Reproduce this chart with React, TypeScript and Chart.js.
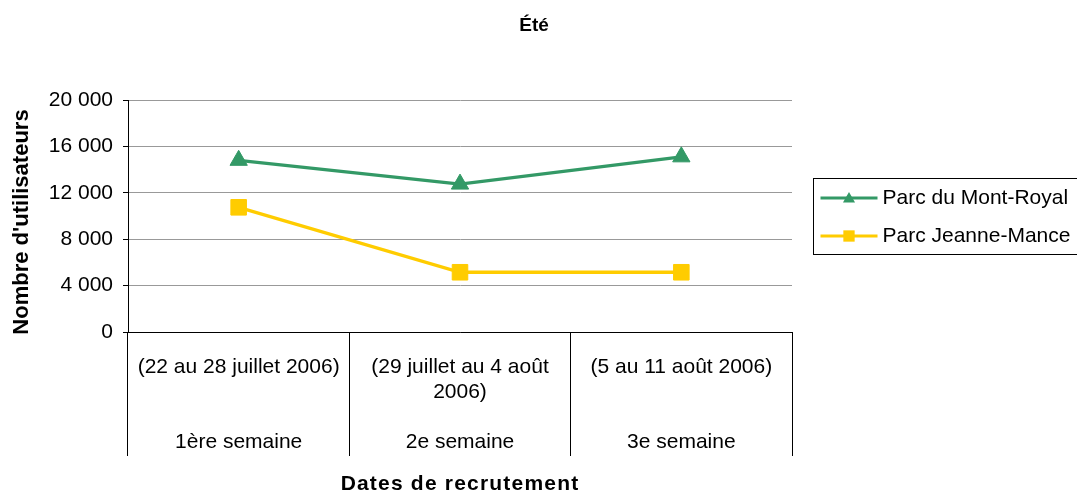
import React, { useEffect, useRef } from "react";
import { Chart, registerables } from "chart.js";

Chart.register(...registerables);

const FONT = "'Liberation Sans', Arial, sans-serif";

// ---- data ----
const dateLabels: string[][] = [
  ["(22 au 28 juillet 2006)"],
  ["(29 juillet au 4 août", "2006)"],
  ["(5 au 11 août 2006)"],
];
const weekLabels = ["1ère semaine", "2e semaine", "3e semaine"];
const mountRoyal = [14800, 12750, 15100];
const jeanneMance = [10750, 5150, 5150];
const seriesNames = ["Parc du Mont-Royal", "Parc Jeanne-Mance"];
const seriesColors = ["#339966", "#FFCC00"];
const seriesMarkers = ["triangle", "rect"];
const yMin = 0;
const yMax = 20000;
const yStep = 4000;
const chartTitle = "Été";
const yTitle = "Nombre d'utilisateurs";
const xTitle = "Dates de recrutement";

const categoryLabels = dateLabels.map((d, i) => {
  const lines = [...d];
  while (lines.length < 3) lines.push("");
  lines.push(weekLabels[i]);
  return lines;
});

function formatThousands(v: number): string {
  const s = Math.round(v).toString();
  return s.replace(/\B(?=(\d{3})+(?!\d))/g, " ");
}

function drawMarker(ctx: CanvasRenderingContext2D, style: string, x: number, y: number, r: number, color: string) {
  ctx.save();
  ctx.fillStyle = color;
  ctx.beginPath();
  if (style === "triangle") {
    ctx.moveTo(x, y - r);
    ctx.lineTo(x + 0.866 * r, y + 0.5 * r);
    ctx.lineTo(x - 0.866 * r, y + 0.5 * r);
    ctx.closePath();
  } else {
    const s = r * Math.SQRT1_2;
    ctx.rect(x - s, y - s, 2 * s, 2 * s);
  }
  ctx.fill();
  ctx.restore();
}

const legendPlugin = {
  id: "boxedLegend",
  afterDraw(chart: any) {
    const ctx: CanvasRenderingContext2D = chart.ctx;
    const area = chart.chartArea;
    const boxX = area.right + 21.5;
    const boxY = 178.5;
    const boxH = 76;
    ctx.save();
    ctx.strokeStyle = "#000";
    ctx.lineWidth = 1;
    ctx.strokeRect(boxX, boxY, 300, boxH);
    chart.data.datasets.forEach((ds: any, i: number) => {
      const cy = boxY + 19.5 + i * 38;
      const x0 = boxX + 7;
      const x1 = boxX + 64;
      ctx.strokeStyle = ds.borderColor;
      ctx.lineWidth = 3;
      ctx.beginPath();
      ctx.moveTo(x0, cy);
      ctx.lineTo(x1, cy);
      ctx.stroke();
      drawMarker(ctx, ds.pointStyle, (x0 + x1) / 2, cy + (ds.pointStyle === "triangle" ? 1 : 0), ds.pointStyle === "triangle" ? 7 : 8, ds.borderColor);
      ctx.fillStyle = "#000";
      ctx.font = `21px ${FONT}`;
      ctx.textAlign = "left";
      ctx.textBaseline = "middle";
      ctx.fillText(ds.label, x1 + 5, cy);
    });
    ctx.restore();
  },
};

const titlesPlugin = {
  id: "titlesDrawn",
  afterDraw(chart: any) {
    const ctx: any = chart.ctx;
    const area = chart.chartArea;
    ctx.save();
    ctx.fillStyle = "#000";
    ctx.textAlign = "center";
    ctx.textBaseline = "middle";
    // chart title
    ctx.font = `bold 19px ${FONT}`;
    ctx.fillText(chartTitle, 534, 26);
    // y title
    ctx.save();
    ctx.translate(22, (area.top + area.bottom) / 2 + 6);
    ctx.rotate(-Math.PI / 2);
    ctx.font = `bold 22px ${FONT}`;
    ctx.fillText(yTitle, 0, 0);
    ctx.restore();
    // x title
    ctx.font = `bold 21px ${FONT}`;
    try { ctx.letterSpacing = "1.2px"; } catch (e) {}
    ctx.fillText(xTitle, (area.left + area.right) / 2, 484);
    ctx.restore();
  },
};

export default function App() {
  const canvasRef = useRef<HTMLCanvasElement | null>(null);

  useEffect(() => {
    if (!canvasRef.current) return;
    Chart.defaults.font.family = FONT;
    Chart.defaults.color = "#000";
    const chart = new Chart(canvasRef.current, {
      type: "line",
      data: {
        labels: categoryLabels as any,
        datasets: [
          {
            label: seriesNames[0],
            data: mountRoyal,
            borderColor: seriesColors[0],
            backgroundColor: seriesColors[0],
            pointStyle: seriesMarkers[0] as any,
            pointRadius: 10,
            pointBorderWidth: 1,
            borderWidth: 3.3,
            tension: 0,
          },
          {
            label: seriesNames[1],
            data: jeanneMance,
            borderColor: seriesColors[1],
            backgroundColor: seriesColors[1],
            pointStyle: seriesMarkers[1] as any,
            pointRadius: 11,
            pointBorderWidth: 1,
            borderWidth: 3.3,
            tension: 0,
          },
        ],
      },
      options: {
        animation: false,
        responsive: false,
        maintainAspectRatio: false,
        layout: { padding: { left: 0, right: 285, top: 100, bottom: 0 } },
        plugins: {
          legend: { display: false },
          tooltip: { enabled: false },
          title: { display: false },
        },
        scales: {
          x: {
            type: "category",
            offset: true,
            grid: {
              offset: true,
              drawOnChartArea: false,
              drawTicks: true,
              tickLength: 124,
              color: "#000",
              tickColor: "#000",
            },
            border: { display: true, color: "#000", width: 1 },
            ticks: {
              autoSkip: false,
              maxRotation: 0,
              minRotation: 0,
              padding: -101.5,
              color: "#000",
              font: { size: 21, family: FONT, lineHeight: 25 / 21 },
            },
            afterFit: (scale: any) => {
              scale.height = 162;
            },
          },
          y: {
            min: yMin,
            max: yMax,
            grid: {
              color: "#999999",
              tickColor: "#000",
              tickLength: 5,
              drawTicks: true,
            },
            border: { display: true, color: "#000", width: 1 },
            ticks: {
              stepSize: yStep,
              padding: 10,
              color: "#000",
              font: { size: 21, family: FONT },
              callback: (v: any) => formatThousands(Number(v)),
            },
            afterFit: (scale: any) => {
              scale.width = 128;
            },
          },
        },
      },
      plugins: [legendPlugin, titlesPlugin],
    });
    return () => chart.destroy();
  }, []);

  return (
    <div style={{ position: "fixed", left: 0, top: 0, width: 1077, height: 494, background: "#fff" }}>
      <canvas ref={canvasRef} width={1077} height={494} style={{ width: 1077, height: 494, display: "block" }} />
    </div>
  );
}
